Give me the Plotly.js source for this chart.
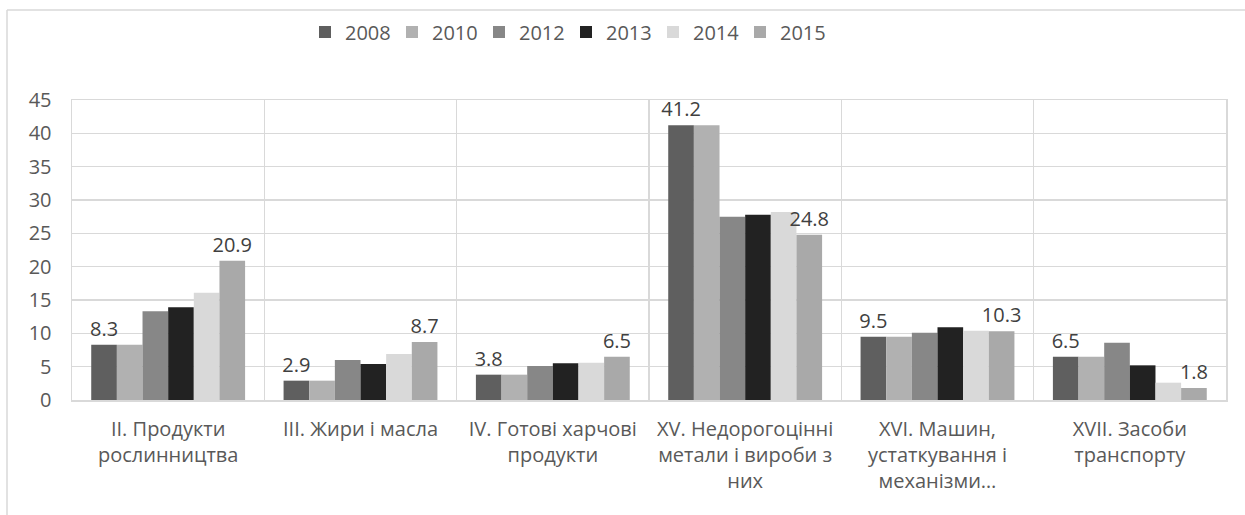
<!DOCTYPE html>
<html>
<head>
<meta charset="utf-8">
<script src="https://cdn.plot.ly/plotly-3.0.1.min.js"></script>
<style>html,body{margin:0;padding:0;background:#fff;}</style>
</head>
<body>
<div id="chart" style="width:1245px;height:515px;"></div>
<script>
const categories = [
  "II. Продукти<br>рослинництва",
  "III. Жири і масла",
  "IV. Готові харчові<br>продукти",
  "XV. Недорогоцінні<br>метали і вироби з<br>них",
  "XVI. Машин,<br>устаткування і<br>механізми…",
  "XVII. Засоби<br>транспорту"
];
const years = ["2008", "2010", "2012", "2013", "2014", "2015"];
const v2008 = [8.3, 2.9, 3.8, 41.2, 9.5, 6.5];
const v2010 = [8.3, 2.9, 3.8, 41.2, 9.5, 6.5];
const v2012 = [13.3, 6.0, 5.1, 27.5, 10.1, 8.6];
const v2013 = [13.9, 5.4, 5.5, 27.8, 10.9, 5.2];
const v2014 = [16.1, 6.9, 5.6, 28.2, 10.4, 2.6];
const v2015 = [20.9, 8.7, 6.5, 24.8, 10.3, 1.8];
const seriesValues = [v2008, v2010, v2012, v2013, v2014, v2015];
const labelled = [true, false, false, false, false, true];
const colors = ["#5f5f5f", "#b1b1b1", "#878787", "#222222", "#d9d9d9", "#a9a9a9"];

const FONT = "'Open Sans', 'Noto Sans', sans-serif";
const FS = 20;

const traces = years.map((yr, i) => {
  const t = {
    type: "bar",
    name: yr,
    x: categories,
    y: seriesValues[i],
    marker: {color: colors[i], line: {width: 0}},
    hoverinfo: "skip",
    cliponaxis: false,
    constraintext: "none"
  };
  if (labelled[i]) {
    t.text = seriesValues[i].map(v => v.toFixed(1));
    t.textposition = "outside";
    t.textfont = {family: FONT, size: FS, color: "#404040"};
  } else {
    t.textposition = "none";
  }
  return t;
});

// plot area pixel frame: left 72, right 1226, top 100, bottom 400
const L = 72, R = 1226, T = 100, B = 400;
const pw = R - L, ph = B - T;
const px = p => (p - L) / pw;
const py = p => (B - p) / ph;

const layout = {
  width: 1245,
  height: 515,
  margin: {l: L, r: 1245 - R, t: T, b: 515 - B, pad: 0},
  paper_bgcolor: "#ffffff",
  plot_bgcolor: "#ffffff",
  font: {family: FONT, size: FS, color: "#595959"},
  barmode: "group",
  bargap: 0.2,
  bargroupgap: 0,
  showlegend: true,
  legend: {
    orientation: "h",
    x: px(566), xanchor: "center",
    y: py(32), yanchor: "middle",
    font: {family: FONT, size: FS, color: "#595959"},
    entrywidth: 42,
    entrywidthmode: "pixels",
    itemwidth: 30,
    traceorder: "normal"
  },
  xaxis: {
    type: "category",
    tickson: "boundaries",
    showgrid: true,
    gridcolor: "#d9d9d9",
    gridwidth: 1.5,
    ticks: "",
    showline: true,
    mirror: true,
    linecolor: "#d9d9d9",
    linewidth: 1.5,
    tickfont: {family: FONT, size: FS, color: "#595959"},
    ticklabelstandoff: 10,
    fixedrange: true
  },
  yaxis: {
    range: [0, 45],
    dtick: 5,
    tick0: 0,
    showgrid: true,
    gridcolor: "#d9d9d9",
    gridwidth: 1.5,
    zeroline: false,
    showline: true,
    mirror: true,
    linecolor: "#d9d9d9",
    linewidth: 1.5,
    ticks: "",
    ticklabelstandoff: 15,
    tickfont: {family: FONT, size: FS, color: "#595959"},
    fixedrange: true
  },
  shapes: [
    {type: "line", xref: "paper", yref: "paper",
     x0: px(7), x1: px(7), y0: py(10), y1: py(520),
     line: {color: "#d9d9d9", width: 1.5}},
    {type: "line", xref: "paper", yref: "paper",
     x0: px(7), x1: px(1250), y0: py(10), y1: py(10),
     line: {color: "#d9d9d9", width: 1.5}}
  ]
};

Plotly.newPlot("chart", traces, layout, {displayModeBar: false, staticPlot: true});
</script>
</body>
</html>
